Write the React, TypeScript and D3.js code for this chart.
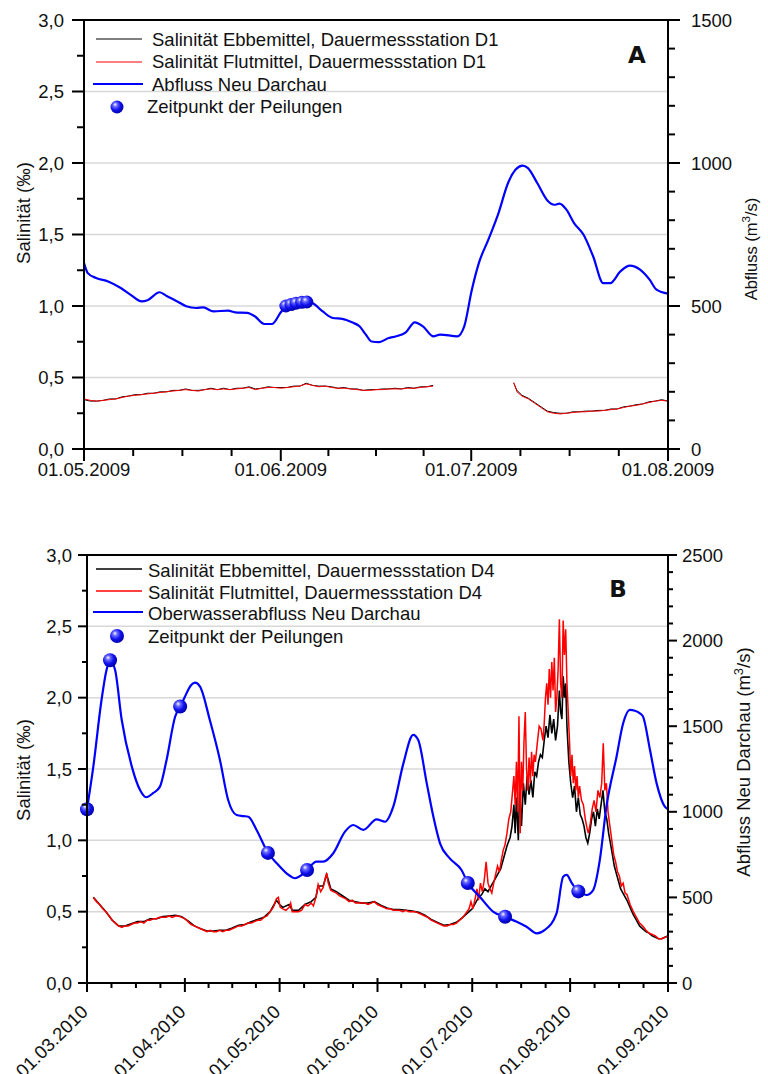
import React from 'react';
import * as d3 from 'd3';

const FONT = '"Liberation Sans", Arial, Helvetica, sans-serif';

// ---------------- Panel A (2009) ----------------
const A_START = '2009-05-01';
const A_END = '2009-08-01';
const A_X_LABELS = ['01.05.2009', '01.06.2009', '01.07.2009', '01.08.2009'];
const A_SAL_TICKS = [0, 0.5, 1, 1.5, 2, 2.5, 3];
const A_SAL_LABELS = ['0,0', '0,5', '1,0', '1,5', '2,0', '2,5', '3,0'];
const A_Q_MAX = 1500;
const A_Q_TICKS = [0, 500, 1000, 1500];
const A_LEGEND = [
  'Salinität Ebbemittel, Dauermessstation D1',
  'Salinität Flutmittel, Dauermessstation D1',
  'Abfluss Neu Darchau',
  'Zeitpunkt der Peilungen',
];

// [day offset from 01.05.2009, discharge m³/s]
const A_discharge: [number, number][] = [
  [0, 650], [0.6, 615], [1.9, 598], [3.8, 586], [5.8, 563], [7.3, 540], [9.1, 516], [10, 520],
  [11.9, 548], [13.1, 534], [14.7, 516], [16.1, 499], [17.7, 493], [18.8, 495], [20.4, 481],
  [22.7, 484], [23.8, 478], [25.7, 476], [26.9, 464], [28.4, 437], [29.6, 437], [31, 478],
  [31.8, 500], [32.6, 505], [33.4, 510], [34.3, 513], [35.1, 514], [36, 510], [37.6, 481],
  [39.2, 458], [40.7, 455], [42.2, 443], [43.4, 429], [44.4, 400], [45.3, 376], [46.5, 374],
  [48, 388], [49.2, 394], [50.7, 408], [52.1, 443], [53.4, 429], [55, 394], [56.1, 400],
  [58.8, 394], [59.9, 429], [61.1, 557], [62.2, 650], [63.7, 732], [65.3, 825], [66.8, 930],
  [68, 977], [69.1, 991], [69.9, 983], [71.4, 930], [73, 869], [74.1, 854], [74.9, 858],
  [76, 837], [77.2, 790], [78.7, 749], [80.2, 674], [81.8, 580], [82.9, 580], [84.5, 621],
  [86, 641], [87.6, 627], [89.1, 592], [90.2, 557], [92, 543],
];

// [day offset, salinity ‰]; null = data gap
const A_salFlut: ([number, number] | null)[] = [
  [0, 0.35], [1, 0.34], [2, 0.335], [3, 0.34], [4, 0.345], [5, 0.35], [6, 0.36], [7, 0.37],
  [8, 0.375], [9, 0.38], [10, 0.385], [11, 0.39], [12, 0.395], [13, 0.4], [14, 0.405],
  [15, 0.41], [16, 0.415], [17, 0.41], [18, 0.405], [19, 0.415], [20, 0.42], [21, 0.415],
  [22, 0.42], [23, 0.415], [24, 0.42], [25, 0.425], [26, 0.43], [27, 0.415], [28, 0.425],
  [29, 0.43], [30, 0.43], [31, 0.425], [32, 0.43], [33, 0.435], [34, 0.44], [35, 0.455],
  [36, 0.445], [37, 0.435], [38, 0.44], [39, 0.43], [40, 0.425], [41, 0.425], [42, 0.42],
  [43, 0.415], [44, 0.41], [45, 0.41], [46, 0.415], [47, 0.415], [48, 0.42], [49, 0.42],
  [50, 0.42], [51, 0.425], [52, 0.425], [53, 0.43], [54, 0.435], [55, 0.44],
  null,
  [67.7, 0.465], [68.2, 0.4], [69, 0.37], [70, 0.35], [71, 0.32], [72, 0.29], [73, 0.26],
  [74, 0.25], [75, 0.245], [76, 0.25], [77, 0.255], [78, 0.26], [79, 0.26], [80, 0.265],
  [81, 0.265], [82, 0.27], [83, 0.275], [84, 0.28], [85, 0.29], [86, 0.3], [87, 0.305],
  [88, 0.315], [89, 0.325], [90, 0.335], [91, 0.34], [92, 0.335],
];
const A_salEbb: ([number, number] | null)[] = [
  [0, 0.345], [1, 0.335], [2, 0.335], [3, 0.34], [4, 0.35], [5, 0.35], [6, 0.365], [7, 0.37],
  [8, 0.38], [9, 0.38], [10, 0.39], [11, 0.39], [12, 0.4], [13, 0.4], [14, 0.41],
  [15, 0.41], [16, 0.42], [17, 0.41], [18, 0.41], [19, 0.415], [20, 0.425], [21, 0.415],
  [22, 0.425], [23, 0.415], [24, 0.425], [25, 0.425], [26, 0.435], [27, 0.42], [28, 0.425],
  [29, 0.435], [30, 0.43], [31, 0.43], [32, 0.43], [33, 0.44], [34, 0.44], [35, 0.46],
  [36, 0.445], [37, 0.44], [38, 0.44], [39, 0.435], [40, 0.425], [41, 0.43], [42, 0.42],
  [43, 0.42], [44, 0.41], [45, 0.415], [46, 0.415], [47, 0.42], [48, 0.42], [49, 0.425],
  [50, 0.42], [51, 0.43], [52, 0.425], [53, 0.435], [54, 0.435], [55, 0.445],
  null,
  [67.7, 0.46], [68.2, 0.41], [69, 0.375], [70, 0.355], [71, 0.325], [72, 0.295], [73, 0.265],
  [74, 0.255], [75, 0.25], [76, 0.25], [77, 0.26], [78, 0.26], [79, 0.265], [80, 0.265],
  [81, 0.27], [82, 0.27], [83, 0.28], [84, 0.28], [85, 0.295], [86, 0.3], [87, 0.31],
  [88, 0.315], [89, 0.33], [90, 0.335], [91, 0.345], [92, 0.335],
];
const A_surveys: [number, number][] = [
  [31.8, 500], [32.6, 505], [33.4, 510], [34.3, 513], [35.1, 514],
];

// ---------------- Panel B (2010) ----------------
const B_START = '2010-03-01';
const B_END = '2010-09-01';
const B_X_LABELS = ['01.03.2010', '01.04.2010', '01.05.2010', '01.06.2010', '01.07.2010', '01.08.2010', '01.09.2010'];
const B_SAL_TICKS = [0, 0.5, 1, 1.5, 2, 2.5, 3];
const B_SAL_LABELS = ['0,0', '0,5', '1,0', '1,5', '2,0', '2,5', '3,0'];
const B_Q_MAX = 2500;
const B_Q_TICKS = [0, 500, 1000, 1500, 2000, 2500];
const B_LEGEND = [
  'Salinität Ebbemittel, Dauermessstation D4',
  'Salinität Flutmittel, Dauermessstation D4',
  'Oberwasserabfluss Neu Darchau',
  'Zeitpunkt der Peilungen',
];

// [day offset from 01.03.2010, discharge m³/s]
const B_discharge: [number, number][] = [
  [0, 1015], [2, 1264], [4.6, 1653], [6.2, 1830], [7.3, 1885], [8.9, 1828], [11, 1536],
  [14.2, 1264], [16.8, 1127], [18.7, 1085], [21, 1110], [23.1, 1147], [25.2, 1303],
  [27.9, 1555], [29.7, 1620], [31, 1672], [33, 1740], [34.2, 1754], [35.8, 1731], [38.9, 1536],
  [42.1, 1303], [44.7, 1069], [47.4, 981], [49.5, 975], [51.1, 971], [53.7, 894], [57.4, 758],
  [60.1, 699], [63.2, 641], [65.9, 612], [68, 631], [69.6, 660], [72.7, 709], [74.8, 709],
  [78, 758], [81.7, 884], [84.3, 923], [87.5, 894], [91.7, 956], [94.4, 942], [97, 1030],
  [100.2, 1283], [103.3, 1449], [104.9, 1419], [107.6, 1166], [109.7, 971], [111.8, 816],
  [114.9, 728], [118.6, 660], [120.7, 582], [124.4, 504], [128.7, 416], [132.4, 387],
  [136.1, 358], [139.2, 329], [142.5, 290], [145, 310], [148.7, 407], [150.8, 621],
  [151.9, 631], [153.5, 585], [155.6, 533], [158.2, 514], [160.3, 543], [162.4, 718],
  [164.5, 1030], [167.7, 1322], [169.8, 1517], [171.9, 1595], [173.5, 1590], [175.1, 1575],
  [176.1, 1556], [178.3, 1361], [180.4, 1166], [183, 1030], [184, 1015],
];

const B_salFlut: [number, number][] = [
  [2, 0.6], [3, 0.57], [4, 0.55], [5, 0.52], [6, 0.5], [7, 0.47], [8, 0.44], [9, 0.42], [10, 0.4],
  [11, 0.39], [12, 0.4], [13, 0.4], [14, 0.41], [15, 0.42], [16, 0.42], [17, 0.43], [18, 0.42],
  [19, 0.44], [20, 0.44], [21, 0.45], [22, 0.45], [23, 0.46], [24, 0.46], [25, 0.46], [26, 0.47],
  [27, 0.46], [28, 0.47], [29, 0.47], [30, 0.46], [31, 0.45], [32, 0.43], [33, 0.41], [34, 0.4],
  [35, 0.39], [36, 0.38], [37, 0.37], [38, 0.36], [39, 0.37], [40, 0.36], [41, 0.36], [42, 0.37],
  [43, 0.36], [44, 0.37], [45, 0.37], [46, 0.38], [47, 0.39], [48, 0.4], [49, 0.4], [50, 0.41],
  [51, 0.42], [52, 0.42], [53, 0.43], [54, 0.44], [55, 0.44], [56, 0.46], [57, 0.47], [58, 0.5],
  [59, 0.53], [60, 0.59], [60.6, 0.6], [61.2, 0.53], [62, 0.52], [63, 0.51], [64, 0.53],
  [64.5, 0.56], [65, 0.5], [66, 0.5], [67, 0.5], [68, 0.51], [69, 0.55], [70, 0.54], [71, 0.56],
  [71.7, 0.54], [72.5, 0.6], [73.2, 0.69], [74, 0.64], [74.8, 0.67], [75.5, 0.74], [75.9, 0.77],
  [76.4, 0.7], [77.2, 0.65], [78, 0.64], [79, 0.63], [80, 0.61], [81, 0.6], [82, 0.59], [83, 0.57],
  [84, 0.58], [85, 0.56], [86, 0.56], [87, 0.56], [88, 0.56], [89, 0.55], [90, 0.56], [91, 0.57],
  [92, 0.55], [93, 0.54], [94, 0.53], [95, 0.52], [96, 0.52], [97, 0.51], [98, 0.51], [99, 0.51],
  [100, 0.5], [101, 0.51], [102, 0.5], [103, 0.5], [104, 0.5], [105, 0.49], [106, 0.48],
  [107, 0.47], [108, 0.46], [109, 0.44], [110, 0.43], [111, 0.42], [112, 0.41], [113, 0.4],
  [114, 0.4], [115, 0.41], [116, 0.41], [117, 0.42], [118, 0.44], [119, 0.46], [120, 0.49],
  [121, 0.52], [121.6, 0.57], [122.2, 0.52], [123, 0.6], [123.5, 0.66], [124, 0.58],
  [124.6, 0.7], [125.2, 0.64], [125.8, 0.72], [126.4, 0.85], [127, 0.7], [127.6, 0.66],
  [128.2, 0.63], [128.8, 0.7], [129.4, 0.76], [130, 0.82], [130.6, 0.78], [131.2, 0.86],
  [131.8, 0.93], [132.4, 0.97], [133, 1.05], [133.6, 1.15], [134.2, 1.2], [134.8, 1.35],
  [135.2, 1.45], [135.6, 1.25], [136, 1.55], [136.4, 1.2], [136.8, 1.87], [137.2, 1.05],
  [137.6, 1.55], [138, 1.35], [138.4, 1.7], [138.8, 1.9], [139.2, 1.5], [139.6, 1.35],
  [140, 1.58], [140.4, 1.4], [140.8, 1.62], [141.2, 1.45], [141.6, 1.6], [142, 1.55],
  [142.6, 1.68], [143.2, 1.8], [143.8, 1.78], [144.4, 1.7], [144.8, 1.82], [145.2, 2.0],
  [145.6, 2.1], [146, 1.95], [146.4, 2.2], [146.8, 2.0], [147.2, 2.25], [147.6, 2.05],
  [148, 2.28], [148.4, 1.9], [148.8, 2.0], [149.2, 2.2], [149.6, 2.55], [150, 2.1], [150.4, 2.0],
  [150.8, 2.54], [151.2, 2.3], [151.6, 2.48], [152, 2.1], [152.4, 1.9], [152.8, 1.7],
  [153.2, 1.45], [153.6, 1.6], [154, 1.4], [154.4, 1.52], [154.8, 1.35], [155.2, 1.45],
  [155.6, 1.3], [156, 1.38], [156.6, 1.28], [157.2, 1.25], [157.8, 1.15], [158.4, 1.08],
  [158.8, 1.05], [159.4, 1.12], [160, 1.22], [160.6, 1.28], [161.2, 1.2], [161.8, 1.35],
  [162.4, 1.3], [163, 1.4], [163.5, 1.68], [164, 1.35], [164.5, 1.4], [165, 1.2], [165.6, 1.1],
  [166.2, 1.0], [166.8, 0.9], [167.4, 0.85], [168, 0.78], [168.6, 0.75], [169.2, 0.68],
  [169.8, 0.7], [170.4, 0.63], [171, 0.62], [172, 0.55], [173, 0.5], [174, 0.46], [175, 0.42],
  [176, 0.4], [177, 0.37], [178, 0.35], [179, 0.34], [180, 0.33], [181, 0.31], [182, 0.31],
  [183, 0.32], [184, 0.33],
];

const B_salEbb: [number, number][] = [
  [2, 0.6], [4, 0.55], [6, 0.5], [8, 0.44], [10, 0.4], [12, 0.4], [14, 0.415], [16, 0.43],
  [18, 0.43], [20, 0.45], [22, 0.45], [24, 0.465], [26, 0.47], [28, 0.475], [30, 0.465],
  [32, 0.435], [34, 0.4], [36, 0.38], [38, 0.365], [40, 0.365], [42, 0.37], [44, 0.37],
  [46, 0.385], [48, 0.405], [50, 0.41], [52, 0.43], [54, 0.445], [56, 0.46], [58, 0.5],
  [60, 0.58], [61, 0.55], [62, 0.53], [64, 0.55], [65, 0.51], [67, 0.51], [69, 0.55],
  [71, 0.57], [72.5, 0.6], [73.2, 0.68], [74.8, 0.68], [75.9, 0.76], [77.2, 0.66], [79, 0.64],
  [81, 0.61], [83, 0.58], [85, 0.57], [87, 0.56], [89, 0.56], [91, 0.57], [93, 0.545],
  [95, 0.525], [97, 0.515], [99, 0.515], [101, 0.51], [103, 0.505], [105, 0.495], [107, 0.475],
  [109, 0.445], [111, 0.425], [113, 0.405], [115, 0.41], [117, 0.425], [119, 0.46], [120, 0.48],
  [121, 0.5], [122, 0.52], [123, 0.56], [124, 0.6], [125, 0.62], [126, 0.66], [127, 0.64],
  [128, 0.68], [129, 0.72], [130, 0.76], [131, 0.8], [132, 0.88], [133, 0.96], [134, 1.02],
  [134.6, 1.1], [135.2, 1.25], [135.6, 1.05], [136, 1.3], [136.6, 1.0], [137, 1.35],
  [137.6, 1.1], [138.2, 1.4], [138.8, 1.25], [139.4, 1.45], [140, 1.32], [140.6, 1.42],
  [141.2, 1.3], [141.8, 1.48], [142.4, 1.45], [143, 1.55], [143.6, 1.6], [144.2, 1.58],
  [144.8, 1.7], [145.4, 1.8], [146, 1.72], [146.6, 1.88], [147.2, 1.75], [147.8, 1.85],
  [148.4, 1.7], [149, 1.8], [149.6, 2.05], [150, 1.9], [150.4, 1.85], [150.8, 2.15],
  [151.2, 2.0], [151.6, 2.1], [152, 1.8], [152.6, 1.55], [153.2, 1.4], [153.8, 1.3],
  [154.4, 1.38], [155, 1.2], [155.6, 1.3], [156.2, 1.18], [156.8, 1.15], [157.4, 1.1],
  [158, 1.02], [158.6, 0.98], [159.2, 1.05], [159.8, 1.15], [160.4, 1.2], [161, 1.1],
  [161.6, 1.22], [162.2, 1.15], [162.8, 1.25], [163.4, 1.35], [164, 1.2], [164.6, 1.15],
  [165.2, 1.05], [166, 0.95], [167, 0.82], [168, 0.74], [169, 0.66], [170, 0.62], [171, 0.58],
  [172, 0.53], [173, 0.48], [174, 0.44], [175, 0.4], [176, 0.38], [177, 0.36], [178, 0.35],
  [179, 0.33], [180, 0.32], [181, 0.31], [182, 0.31], [183, 0.32], [184, 0.33],
];

const B_surveys: [number, number][] = [
  [0, 1015], [7.3, 1885], [29.5, 1615], [57.3, 760], [69.7, 660], [120.6, 584], [132.4, 387], [155.6, 535],
];

// ---------------- helpers ----------------
const utc = (s: string) => new Date(s + 'T00:00:00Z');
const DAY = 86400000;

type Cfg = {
  start: string; end: string; xLabels: string[];
  salTicks: number[]; salLabels: string[]; qMax: number; qTicks: number[];
  discharge: [number, number][]; salEbb: ([number, number] | null)[]; salFlut: ([number, number] | null)[];
  surveys: [number, number][]; legend: string[];
  box: { x0: number; x1: number; y0: number; y1: number };
  letter: string; letterPos: [number, number];
  rightTitle: string; rightTitleX: number; rightTitleY: number; rightTitleSize: number;
  leftTitleY: number;
  rotateX: boolean; xLabelY: number; xTickUp: number;
  majorTick: number; minorTick: number; leftLabelGap: number; rightLabelGap: number;
  legendLines: number[]; legendBase: number[]; legendTextX: number[]; legendBallY: number;
  ebbW: number; flutW: number; ballR: number;
};

const A_CFG: Cfg = {
  start: A_START, end: A_END, xLabels: A_X_LABELS, salTicks: A_SAL_TICKS, salLabels: A_SAL_LABELS,
  qMax: A_Q_MAX, qTicks: A_Q_TICKS, discharge: A_discharge, salEbb: A_salEbb, salFlut: A_salFlut,
  surveys: A_surveys, legend: A_LEGEND,
  box: { x0: 84, x1: 668, y0: 20, y1: 449 },
  letter: 'A', letterPos: [637, 63],
  rightTitle: 'Abfluss', rightTitleX: 757, rightTitleY: 249, rightTitleSize: 16.5,
  leftTitleY: 213, rotateX: false, xLabelY: 476, xTickUp: 0,
  majorTick: 12, minorTick: 7, leftLabelGap: 20, rightLabelGap: 23,
  legendLines: [39, 62, 84], legendBase: [46, 68, 91, 113], legendTextX: [152, 152, 152, 147], legendBallY: 107,
  ebbW: 1, flutW: 1, ballR: 6.5,
};

const B_CFG: Cfg = {
  start: B_START, end: B_END, xLabels: B_X_LABELS, salTicks: B_SAL_TICKS, salLabels: B_SAL_LABELS,
  qMax: B_Q_MAX, qTicks: B_Q_TICKS, discharge: B_discharge, salEbb: B_salEbb, salFlut: B_salFlut,
  surveys: B_surveys, legend: B_LEGEND,
  box: { x0: 87, x1: 668, y0: 555, y1: 983 },
  letter: 'B', letterPos: [618, 597],
  rightTitle: 'Abfluss Neu Darchau', rightTitleX: 750, rightTitleY: 762, rightTitleSize: 18.5,
  leftTitleY: 770, rotateX: true, xLabelY: 1013, xTickUp: 5,
  majorTick: 9, minorTick: 5, leftLabelGap: 15, rightLabelGap: 14,
  legendLines: [569, 591, 612], legendBase: [577, 599, 620, 643], legendTextX: [148, 148, 148, 148], legendBallY: 636,
  ebbW: 1.6, flutW: 1.5, ballR: 7,
};

function Ball({ cx, cy, r, id }: { cx: number; cy: number; r: number; id: string }) {
  return <circle cx={cx} cy={cy} r={r} fill={`url(#${id})`} />;
}

function Panel({ c, gid }: { c: Cfg; gid: string }) {
  const { x0, x1, y0, y1 } = c.box;
  const t0 = utc(c.start), t1 = utc(c.end);
  const x = d3.scaleUtc().domain([t0, t1]).range([x0, x1]);
  const ys = d3.scaleLinear().domain([0, 3]).range([y1, y0]);
  const yq = d3.scaleLinear().domain([0, c.qMax]).range([y1, y0]);
  const dx = (d: number) => x(new Date(t0.getTime() + d * DAY));

  const salLine = d3.line<[number, number] | null>()
    .defined((d) => d != null)
    .x((d) => dx((d as [number, number])[0]))
    .y((d) => ys((d as [number, number])[1]));
  const qLine = d3.line<[number, number]>()
    .x((d) => dx(d[0]))
    .y((d) => yq(d[1]))
    .curve(d3.curveMonotoneX);

  const months = d3.utcMonth.range(t0, d3.utcDay.offset(t1, 1));
  const minorX: Date[] = [];
  for (let i = 0; i < months.length - 1; i++) {
    const a = months[i].getTime(), b = months[i + 1].getTime();
    for (let k = 1; k < 4; k++) minorX.push(new Date(a + ((b - a) * k) / 4));
  }
  const minorSal = d3.range(0.25, 3, 0.5);
  const minorQ = yq.ticks(c.qMax / 100).filter((v) => c.qTicks.indexOf(v) < 0);
  const grid = c.salTicks.filter((v) => v > 0 && v < 3);

  const fs = 18.5;
  return (
    <g fontFamily={FONT} fill="#111">
      {grid.map((v) => (
        <line key={'g' + v} x1={x0} x2={x1} y1={ys(v)} y2={ys(v)} stroke="#d8d8d8" strokeWidth={1.5} />
      ))}
      <path d={salLine(c.salEbb) || ''} fill="none" stroke="#000" strokeWidth={c.ebbW} />
      <path d={salLine(c.salFlut) || ''} fill="none" stroke="#ff0000" strokeWidth={c.flutW} />
      <path d={qLine(c.discharge) || ''} fill="none" stroke="#0000ff" strokeWidth={2.2} />
      {c.surveys.map((d, i) => (
        <Ball key={'s' + i} cx={dx(d[0])} cy={yq(d[1])} r={c.ballR} id={gid} />
      ))}

      {/* frame */}
      <line x1={x0} x2={x1} y1={y0} y2={y0} stroke="#000" strokeWidth={2} />
      <line x1={x0} x2={x0} y1={y0} y2={y1} stroke="#000" strokeWidth={2} />
      <line x1={x1} x2={x1} y1={y0} y2={y1} stroke="#000" strokeWidth={2} />
      <line x1={x0 - c.majorTick} x2={x1} y1={y1} y2={y1} stroke="#000" strokeWidth={2} />

      {/* left axis */}
      {c.salTicks.map((v, i) => (
        <g key={'ls' + v}>
          <line x1={x0 - c.majorTick} x2={x0} y1={ys(v)} y2={ys(v)} stroke="#000" strokeWidth={2} />
          <text x={x0 - c.leftLabelGap} y={ys(v) + 6.5} textAnchor="end" fontSize={fs}>{c.salLabels[i]}</text>
        </g>
      ))}
      {minorSal.map((v) => (
        <line key={'lm' + v} x1={x0 - c.minorTick} x2={x0} y1={ys(v)} y2={ys(v)} stroke="#000" strokeWidth={2} />
      ))}
      {/* right axis */}
      {c.qTicks.map((v) => (
        <g key={'rq' + v}>
          <line x1={x1} x2={x1 + c.majorTick} y1={yq(v)} y2={yq(v)} stroke="#000" strokeWidth={2} />
          <text x={x1 + c.rightLabelGap} y={yq(v) + 6.5} fontSize={fs}>{v}</text>
        </g>
      ))}
      {minorQ.map((v) => (
        <line key={'rm' + v} x1={x1} x2={x1 + c.minorTick} y1={yq(v)} y2={yq(v)} stroke="#000" strokeWidth={2} />
      ))}
      {/* bottom axis */}
      {months.map((m, i) => (
        <g key={'bx' + i}>
          <line x1={x(m)} x2={x(m)} y1={y1 - c.xTickUp} y2={y1 + c.majorTick} stroke="#000" strokeWidth={2} />
          {c.rotateX ? (
            <text transform={`translate(${x(m) + 2},${c.xLabelY}) rotate(-45)`} textAnchor="end" fontSize={fs}>
              {c.xLabels[i]}
            </text>
          ) : (
            <text x={x(m)} y={c.xLabelY} textAnchor="middle" fontSize={fs}>{c.xLabels[i]}</text>
          )}
        </g>
      ))}
      {minorX.map((m, i) => (
        <line key={'mx' + i} x1={x(m)} x2={x(m)} y1={y1} y2={y1 + c.minorTick} stroke="#000" strokeWidth={2} />
      ))}

      {/* titles */}
      <text transform={`translate(30,${c.leftTitleY}) rotate(-90)`} textAnchor="middle" fontSize={fs}>
        Salinität (‰)
      </text>
      <text transform={`translate(${c.rightTitleX},${c.rightTitleY}) rotate(-90)`} textAnchor="middle" fontSize={c.rightTitleSize}>
        {c.rightTitle} (m<tspan dy={-7} fontSize={c.rightTitleSize * 0.7}>3</tspan><tspan dy={7}>/s)</tspan>
      </text>
      <text x={c.letterPos[0]} y={c.letterPos[1]} textAnchor="middle" fontSize={23} fontWeight={900} fontFamily='"DejaVu Sans", Arial, sans-serif'>
        {c.letter}
      </text>

      {/* legend */}
      <line x1={96} x2={142} y1={c.legendLines[0]} y2={c.legendLines[0]} stroke="#000" strokeWidth={c.ebbW} />
      <line x1={96} x2={142} y1={c.legendLines[1]} y2={c.legendLines[1]} stroke="#ff0000" strokeWidth={c.flutW} />
      <line x1={93} x2={143} y1={c.legendLines[2]} y2={c.legendLines[2]} stroke="#0000ff" strokeWidth={2.2} />
      <Ball cx={117} cy={c.legendBallY} r={c.ballR} id={gid} />
      {c.legend.map((s, i) => (
        <text key={'lg' + i} x={c.legendTextX[i]} y={c.legendBase[i]} fontSize={fs}>{s}</text>
      ))}
    </g>
  );
}

export default function App() {
  return (
    <svg width={768} height={1074} style={{ position: 'absolute', left: 0, top: 0, background: '#fff' }}>
      <defs>
        <radialGradient id="ball" cx="0.4" cy="0.4" r="0.65" fx="0.35" fy="0.3">
          <stop offset="0" stopColor="#ffffff" />
          <stop offset="0.25" stopColor="#6a6aff" />
          <stop offset="0.6" stopColor="#1010ee" />
          <stop offset="1" stopColor="#0000a0" />
        </radialGradient>
      </defs>
      <rect width={768} height={1074} fill="#fff" />
      <Panel c={A_CFG} gid="ball" />
      <Panel c={B_CFG} gid="ball" />
    </svg>
  );
}
